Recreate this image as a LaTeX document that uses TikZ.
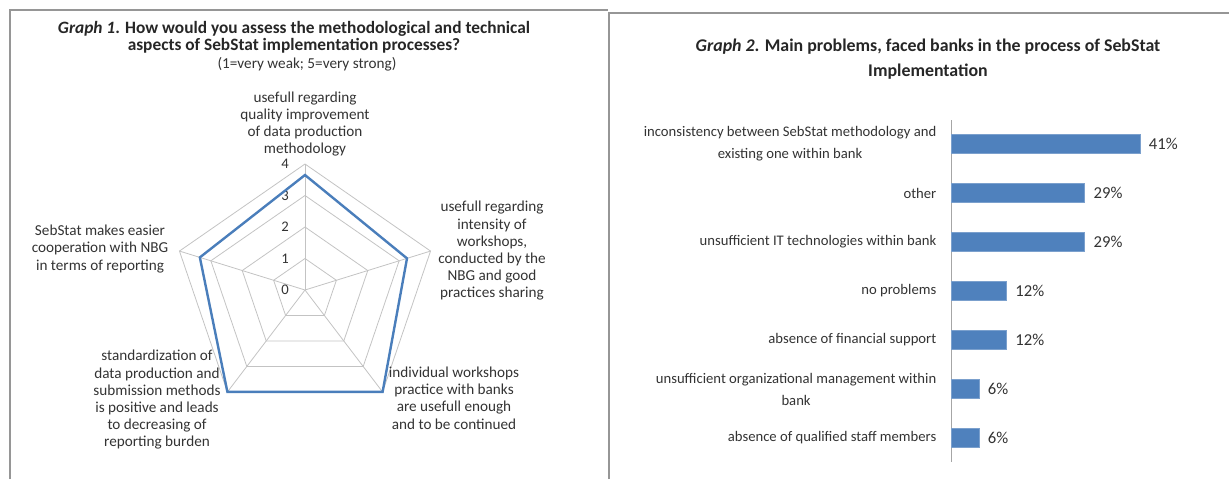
\documentclass[tikz,border=0pt]{standalone}
\usepackage{fontspec}
\setmainfont{Carlito}
\definecolor{barblue}{RGB}{79,129,189}
\definecolor{lineblue}{RGB}{74,126,187}
\definecolor{gridgray}{RGB}{195,195,195}
\definecolor{framegray}{RGB}{150,150,150}
\begin{document}
\begin{tikzpicture}[x=0.75pt, y=-0.75pt,
    frame/.style = {draw=framegray, line width=1.5pt},
    ttl/.style = {font=\fontsize{13}{13}\selectfont\bfseries, align=center, text=black!85},
    lab/.style = {font=\fontsize{11.4}{12.9}\selectfont, align=center, text=black!80},
    tick/.style = {font=\fontsize{11}{12}\selectfont, text=black!80},
    grid/.style = {draw=gridgray, line width=0.6pt},
    data/.style = {draw=lineblue, line width=1.8pt},
    cat/.style = {font=\fontsize{11}{16.5}\selectfont, align=center, anchor=east, text=black!80},
    bar/.style = {fill=barblue, draw=barblue!75!white, minimum height=14.5pt, inner sep=0pt, anchor=west},
    val/.style = {font=\fontsize{12.5}{14}\selectfont, text=black!80, label distance=3pt}]
\useasboundingbox (0,0) rectangle (1229,479);
% frames
\draw[frame] (10,479) -- (10,10) -- (608,10);
\draw[frame] (609,479) -- (609,13) -- (1229,13);

% graph 1
\node[ttl] (t1) at (294,37) {\textit{Graph 1}. How would you assess the methodological and technical\\aspects of SebStat implementation processes?};
\node[lab] (s1) at (307,64) {(1=very weak; 5=very strong)};
\begin{scope}[shift={(305,290)}, x=24.75pt, y=23.625pt]
  \coordinate (o) at (0,0);
  \foreach \a/\n in {90/1, 18/2, -54/3, -126/4, 162/5}
    \coordinate (v\n) at (\a:4);
  \foreach \r in {1,...,4}
    \draw[grid] (90:\r) -- (18:\r) -- (-54:\r) -- (-126:\r) -- (162:\r) -- cycle;
  \foreach \n in {1,...,5}
    \draw[grid] (o) -- (v\n);
  \foreach \r in {0,...,4}
    \node[tick] (k\r) at (-0.6,\r) {\r};
  \coordinate (d1) at (90:3.65);
  \coordinate (d2) at (18:3.25);
  \coordinate (d3) at (-54:4);
  \coordinate (d4) at (-126:4);
  \coordinate (d5) at (162:3.35);
  \draw[data] (d1) -- (d2) -- (d3) -- (d4) -- (d5) -- cycle;
\end{scope}
\node[lab] (l1) at (305,124) {usefull regarding\\quality improvement\\of data production\\methodology};
\node[lab] (l2) at (492,251) {usefull regarding\\intensity of\\workshops,\\conducted by the\\NBG and good\\practices sharing};
\node[lab] (l3) at (454,398) {individual workshops\\practice with banks\\are usefull enough\\and to be continued};
\node[lab] (l4) at (157,400) {standardization of\\data production and\\submission methods\\is positive and leads\\to decreasing of\\reporting burden};
\node[lab] (l5) at (100,249) {SebStat makes easier\\cooperation with NBG\\in terms of reporting};

% graph 2
\node[ttl, font=\fontsize{13.4}{18.75}\selectfont\bfseries] (t2) at (928,59) {\textit{Graph 2}. Main problems, faced banks in the process of SebStat\\Implementation};
\coordinate (ax1) at (951,120);
\coordinate (ax2) at (951,462);
\draw[draw=gray!70, line width=0.75pt] (ax1) -- (ax2);
\foreach \y/\p/\n in {144/41/1, 193/29/2, 242/29/3, 291/12/4, 340/12/5, 389/6/6, 438/6/7}
  \node[bar, minimum width=\p*3.45pt, label={[val]right:\p\%}] (b\n) at (951,\y) {};
\node[cat] (c1) at (941,144) {inconsistency between SebStat methodology and\\existing one within bank};
\node[cat] (c2) at (941,193) {other};
\node[cat] (c3) at (941,242) {unsufficient IT technologies within bank};
\node[cat] (c4) at (941,291) {no problems};
\node[cat] (c5) at (941,340) {absence of financial support};
\node[cat] (c6) at (941,389) {unsufficient organizational management within\\bank};
\node[cat] (c7) at (941,438) {absence of qualified staff members};
\end{tikzpicture}
\end{document}
